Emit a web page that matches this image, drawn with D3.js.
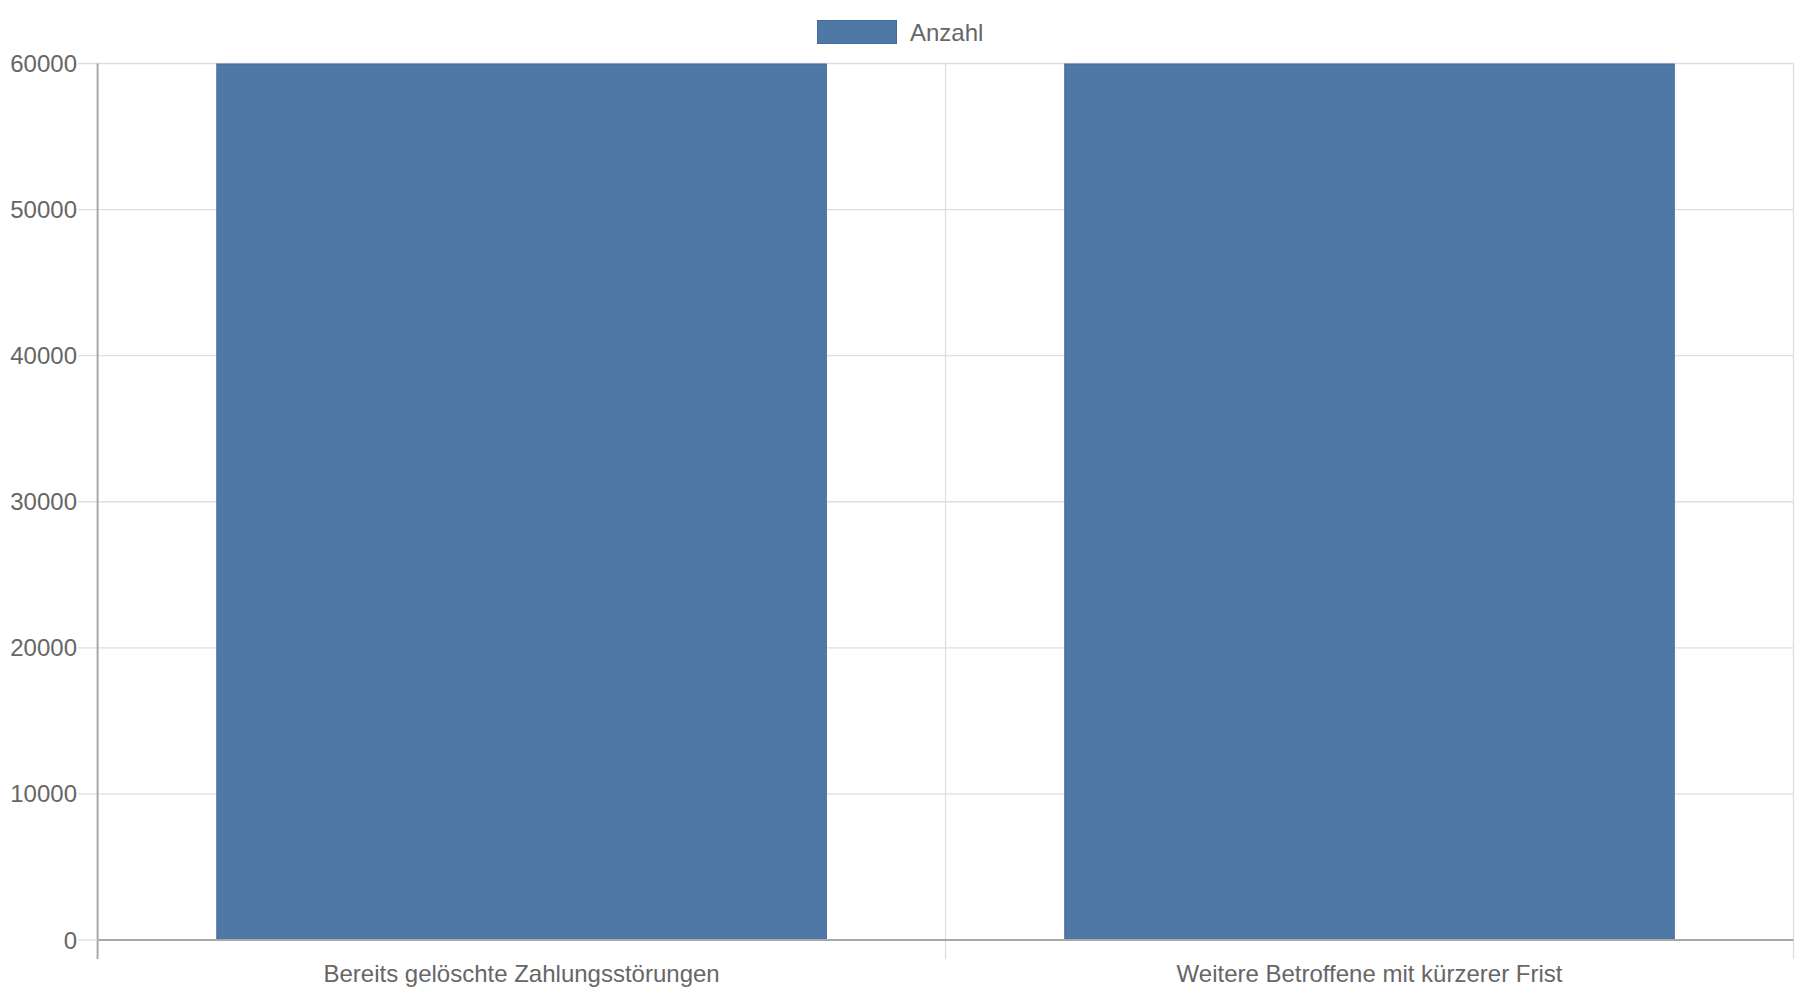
<!DOCTYPE html>
<html>
<head>
<meta charset="utf-8">
<script src="https://cdn.jsdelivr.net/npm/d3@7/dist/d3.min.js"></script>
<style>
  html, body { margin: 0; padding: 0; background: #fff; }
  svg { display: block; }
  text { font-family: "Liberation Sans", Arial, Helvetica, sans-serif; fill: #666; }
</style>
</head>
<body>
<svg id="chart" width="1800" height="1000"></svg>
<script>
// Data
const categories = ["Bereits gelöschte Zahlungsstörungen", "Weitere Betroffene mit kürzerer Frist"];
const seriesName = "Anzahl";
const values = [60000, 60000];
const yTicks = [0, 10000, 20000, 30000, 40000, 50000, 60000];

const plotLeft = 97.6, plotRight = 1793.5, plotTop = 63.5, plotBottom = 940;
const barColor = "#4e79a7", barBorder = "#44699a";
const gridColor = "#dedede", axisColor = "#a8a8a8";

const svg = d3.select("#chart");

const y = d3.scaleLinear().domain([0, 60000]).range([plotBottom, plotTop]);
const xCat = d3.scaleBand().domain(categories).range([plotLeft, plotRight]).padding(0);
const xBar = d3.scaleBand().domain(categories).range([plotLeft, plotRight]).paddingInner(0.28).paddingOuter(0.14);

// Horizontal gridlines + tick marks
svg.append("g").selectAll("line").data(yTicks.filter(d => d !== 0)).join("line")
  .attr("x1", 78).attr("x2", plotRight)
  .attr("y1", d => y(d)).attr("y2", d => y(d))
  .attr("stroke", gridColor).attr("stroke-width", 1.3);

// Vertical gridlines at category boundaries
const bounds = categories.map(c => xCat(c)).concat([plotRight]);
svg.append("g").selectAll("line").data(bounds.slice(1)).join("line")
  .attr("x1", d => d).attr("x2", d => d)
  .attr("y1", plotTop).attr("y2", 959)
  .attr("stroke", gridColor).attr("stroke-width", 1.3);

// Bars
svg.append("g").selectAll("rect").data(values).join("rect")
  .attr("x", (d, i) => xBar(categories[i]) + 0.5)
  .attr("y", d => y(d) + 0.5)
  .attr("width", xBar.bandwidth() - 1)
  .attr("height", d => y(0) - y(d) - 1)
  .attr("fill", barColor)
  .attr("stroke", barBorder).attr("stroke-width", 1);

// Y axis line and zero tick
svg.append("line").attr("x1", plotLeft).attr("x2", plotLeft).attr("y1", plotTop).attr("y2", 959)
  .attr("stroke", axisColor).attr("stroke-width", 2);
svg.append("line").attr("x1", 78).attr("x2", plotLeft).attr("y1", y(0)).attr("y2", y(0))
  .attr("stroke", gridColor).attr("stroke-width", 1.3);
// X axis line
svg.append("line").attr("x1", plotLeft).attr("x2", plotRight).attr("y1", y(0)).attr("y2", y(0))
  .attr("stroke", axisColor).attr("stroke-width", 2);

// Y tick labels
svg.append("g").selectAll("text").data(yTicks).join("text")
  .attr("x", 77).attr("y", d => y(d))
  .attr("text-anchor", "end").attr("dominant-baseline", "central")
  .style("font-size", "24px")
  .text(d => d);

// X tick labels
svg.append("g").selectAll("text").data(categories).join("text")
  .attr("x", d => xCat(d) + xCat.bandwidth() / 2).attr("y", 982)
  .attr("text-anchor", "middle")
  .style("font-size", "24px")
  .text(d => d);

// Legend
const lg = svg.append("g");
lg.append("rect").attr("x", 817.5).attr("y", 20.5).attr("width", 79).attr("height", 23)
  .attr("fill", barColor).attr("stroke", barBorder).attr("stroke-width", 1);
lg.append("text").attr("x", 910).attr("y", 32).attr("dominant-baseline", "central")
  .style("font-size", "24px").text(seriesName);
</script>
</body>
</html>
